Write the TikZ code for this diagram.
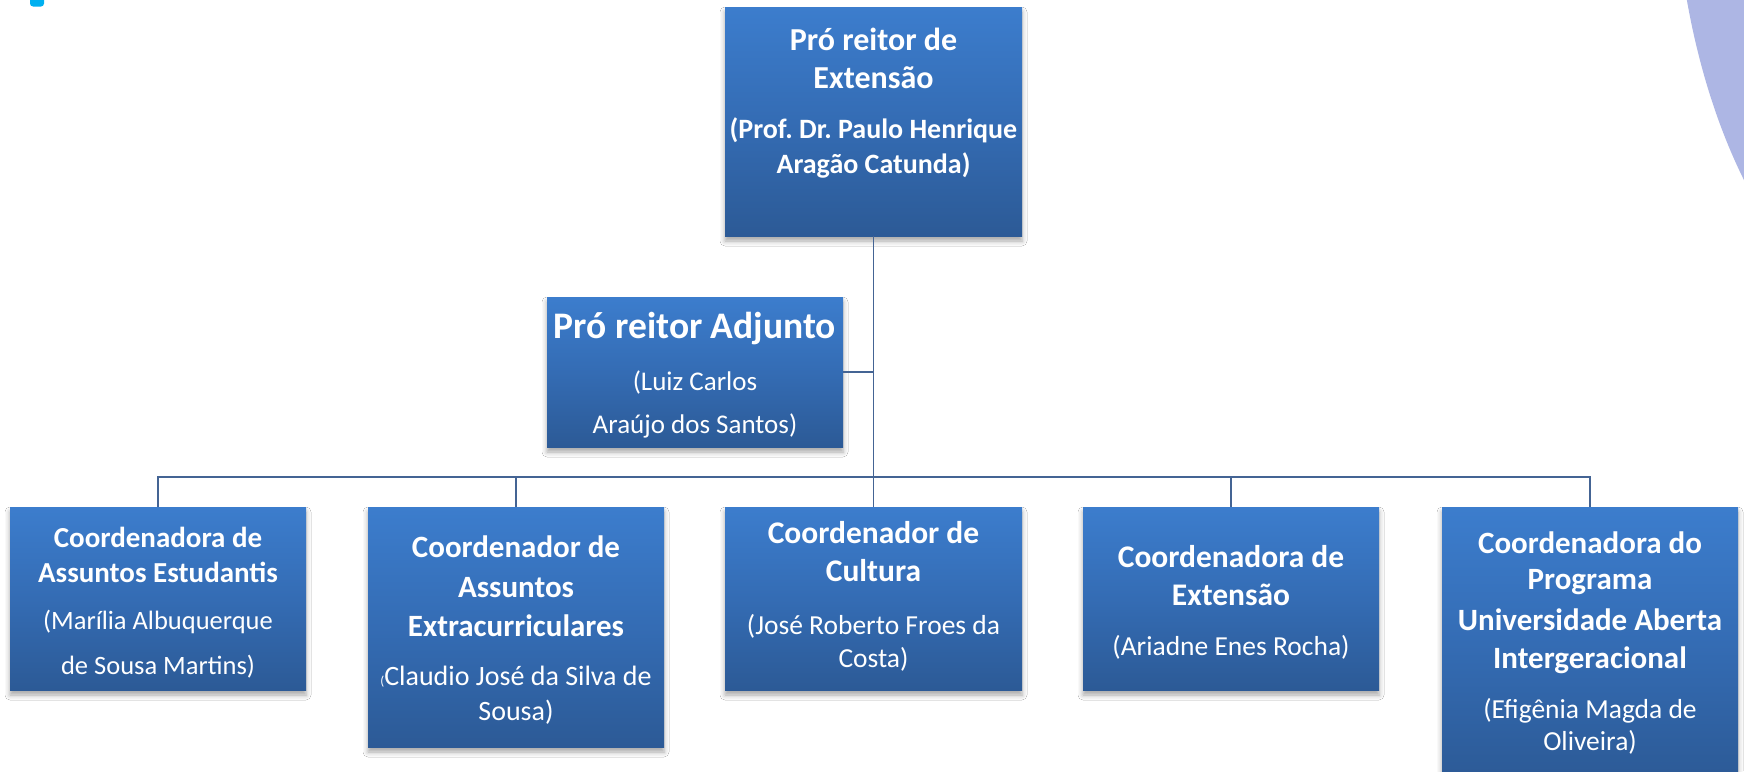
\documentclass[tikz,border=0pt]{standalone}
\usepackage{fontspec}
\setmainfont{Carlito}
\frenchspacing
\usetikzlibrary{shadows.blur}
\definecolor{bt}{RGB}{60,125,205}
\definecolor{bm}{RGB}{52,108,180}
\definecolor{bb}{RGB}{44,90,150}
\definecolor{conncol}{RGB}{68,100,148}
\definecolor{lilac}{RGB}{173,182,228}
\definecolor{cyanmark}{RGB}{0,176,240}
\newcommand\boxtext[1]{\vtop{\hsize=400pt\centering\frenchspacing\parindent=0pt\parskip=0pt\lineskiplimit=-1000pt\lineskip=0pt\baselineskip=0pt\relax #1}}
\newcommand\Tl[2]{{\fontsize{#1}{0}\selectfont\bfseries #2\par}}
\newcommand\Nl[2]{{\fontsize{#1}{0}\selectfont #2\par}}
\newcommand\gap[1]{\vskip #1pt\relax}
\tikzset{
  orgbox/.style={draw=none, inner sep=0pt, top color=bt, bottom color=bb, middle color=bm,
    blur shadow={shadow xshift=0pt, shadow yshift=-5pt, shadow blur radius=5pt, shadow opacity=35}},
  txt/.style={inner sep=0pt, anchor=base, text=white},
  conn/.style={draw=conncol, line width=1.8pt}
}
\begin{document}
\begin{tikzpicture}[x=1pt,y=-1pt]
\useasboundingbox (0,0) rectangle (1744,771);
\clip (0,0) rectangle (1744,771);
\fill[white] (0,0) rectangle (1744,771);
% decorations
\fill[lilac] (1950,-150) ellipse [x radius=276, y radius=496];
\fill[cyanmark, rounded corners=3pt] (30,-10) rectangle (44,6.5);
% boxes
\node[orgbox, minimum width=297pt, minimum height=229pt] (top) at (873.5,121.5) {};
\node[orgbox, minimum width=296pt, minimum height=150pt] (adj) at (695,372) {};
\node[orgbox, minimum width=296pt, minimum height=183pt] (b1) at (158,598.5) {};
\node[orgbox, minimum width=296pt, minimum height=240pt] (b2) at (516,627) {};
\node[orgbox, minimum width=297pt, minimum height=183pt] (b3) at (873.5,598.5) {};
\node[orgbox, minimum width=296pt, minimum height=183pt] (b4) at (1231,598.5) {};
\node[orgbox, minimum width=296pt, minimum height=273pt] (b5) at (1590,643.5) {};
% connectors
\coordinate (bus) at (873.5,477);
\draw[conn] (top.south) -- (b3.north);
\draw[conn] (adj.east) -- (adj.east -| top.south);
\draw[conn] (b1.north) -- (b1.north |- bus) -- (b5.north |- bus) -- (b5.north);
\draw[conn] (b2.north) -- (b2.north |- bus);
\draw[conn] (b4.north) -- (b4.north |- bus);
% texts
\node[txt] (ttop) at (873.5,50) {\boxtext{\Tl{32}{Pró reitor de}\gap{38}\Tl{32}{Extensão}\gap{50}\Tl{28}{(Prof. Dr. Paulo Henrique}\gap{35}\Tl{28}{Aragão Catunda)}}};
\node[txt] (tadj) at (695,338) {\boxtext{\Tl{37.5}{Pró reitor Adjunto}\gap{52}\Nl{27}{(Luiz Carlos}\gap{43}\Nl{27}{Araújo dos Santos)}}};
\node[txt] (t1) at (158,547) {\boxtext{\Tl{29}{Coordenadora de}\gap{35}\Tl{29}{Assuntos Estudantis}\gap{47}\Nl{26.5}{(Marília Albuquerque}\gap{45}\Nl{26.5}{de Sousa Martins)}}};
\node[txt] (t2) at (516,557) {\boxtext{\Tl{31}{Coordenador de}\gap{40}\Tl{31}{Assuntos}\gap{39}\Tl{31}{Extracurriculares}\gap{49}\Nl{28}{{\fontsize{13}{0}\selectfont(}Claudio José da Silva de}\gap{35}\Nl{28}{Sousa)}}};
\node[txt] (t3) at (873.5,543) {\boxtext{\Tl{31.5}{Coordenador de}\gap{38}\Tl{31.5}{Cultura}\gap{53}\Nl{27.5}{(José Roberto Froes da}\gap{33}\Nl{27.5}{Costa)}}};
\node[txt] (t4) at (1231,567) {\boxtext{\Tl{31.5}{Coordenadora de}\gap{38}\Tl{31.5}{Extensão}\gap{50}\Nl{27.5}{(Ariadne Enes Rocha)}}};
\node[txt] (t5) at (1590,553) {\boxtext{\Tl{31}{Coordenadora do}\gap{36}\Tl{31}{Programa}\gap{41}\Tl{31}{Universidade Aberta}\gap{38}\Tl{31}{Intergeracional}\gap{50}\Nl{27.5}{(Efigênia Magda de}\gap{32}\Nl{27.5}{Oliveira)}}};
\end{tikzpicture}
\end{document}
